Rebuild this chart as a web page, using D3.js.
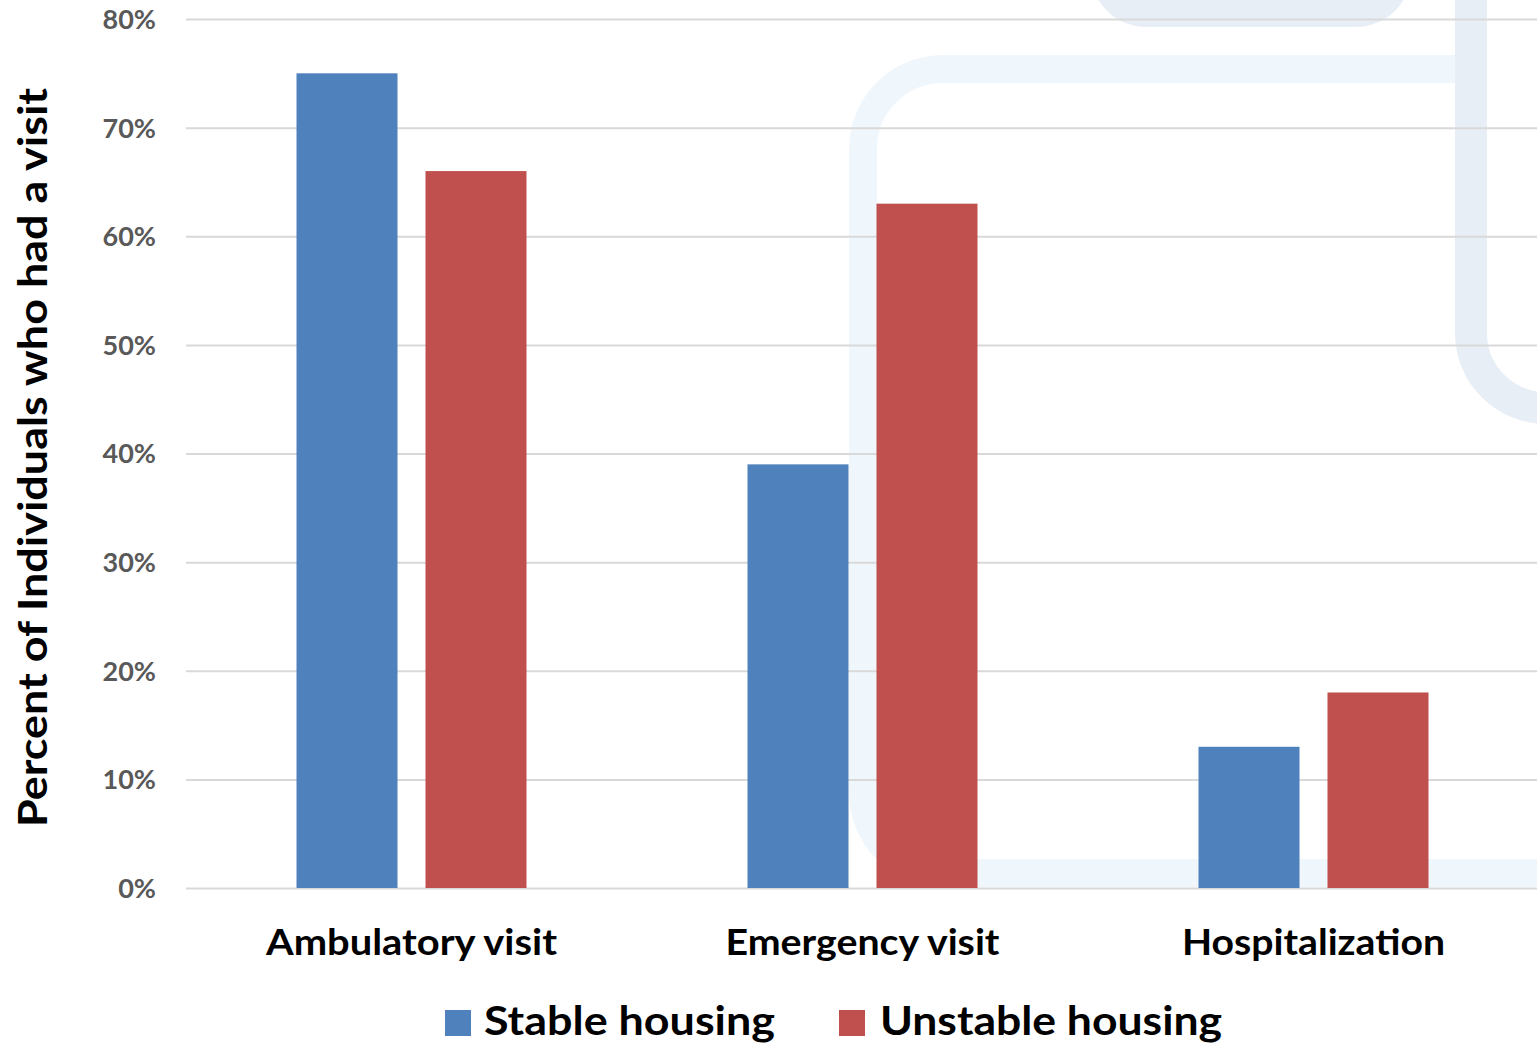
<!DOCTYPE html>
<html>
<head>
<meta charset="utf-8">
<script src="https://cdn.jsdelivr.net/npm/d3@7"></script>
<style>
  html, body { margin: 0; padding: 0; background: #ffffff; }
  svg { display: block; }
</style>
</head>
<body>
<svg id="chart" width="1537" height="1044"></svg>
<script>
// Share of individuals with at least one visit, by housing status
const categories = ["Ambulatory visit", "Emergency visit", "Hospitalization"];
const seriesNames = ["Stable housing", "Unstable housing"];
const stableValues = [75, 39, 13];
const unstableValues = [66, 63, 18];
const yTicks = [0, 10, 20, 30, 40, 50, 60, 70, 80];
const yTitle = "Percent of Individuals who had a visit";

const colors = { "Stable housing": "#4f81bd", "Unstable housing": "#c0504d" };
const FONT = "Lato, 'Open Sans', sans-serif";

const rows = categories.map((c, i) => ({
  category: c,
  values: [
    { series: seriesNames[0], value: stableValues[i] },
    { series: seriesNames[1], value: unstableValues[i] }
  ]
}));

const W = 1537, H = 1044;
const plotLeft = 186, plotRight = 1539, plotTop = 19, plotBottom = 888;
const svg = d3.select("#chart");

// Decorative pale-blue background outlines
const deco = svg.append("g").attr("class", "backdrop");
deco.append("path")
  .attr("d", "M1471,69 H943 A80,80 0 0 0 863,149 V793 A80,80 0 0 0 943,873 H1600")
  .attr("fill", "none").attr("stroke", "#f0f7fc").attr("stroke-width", 28);
deco.append("rect")
  .attr("x", 1091).attr("y", -120).attr("width", 320).attr("height", 147)
  .attr("rx", 55).attr("ry", 55)
  .attr("fill", "#e8eef5");
deco.append("path")
  .attr("d", "M1471,-20 V333 A75,75 0 0 0 1546,408 H1600")
  .attr("fill", "none").attr("stroke", "#e7eef5").attr("stroke-width", 32);

const y = d3.scaleLinear()
  .domain([0, 80])
  .range([plotBottom, plotTop]);

const x0 = d3.scaleBand()
  .domain(categories)
  .range([plotLeft, plotRight])
  .padding(0);

const groupWidth = 230;
const x1 = d3.scaleBand()
  .domain(seriesNames)
  .range([(x0.bandwidth() - groupWidth) / 2, (x0.bandwidth() + groupWidth) / 2])
  .paddingInner(0.217)
  .paddingOuter(0);

// Gridlines and y tick labels
const yAxis = d3.axisLeft(y)
  .tickValues(yTicks)
  .tickSize(-(W - plotLeft))
  .tickPadding(30)
  .tickFormat(d => d + "%");

const gy = svg.append("g")
  .attr("transform", `translate(${plotLeft},0)`)
  .call(yAxis);
gy.select(".domain").remove();
gy.selectAll(".tick line")
  .attr("stroke", "#d9d9d9")
  .attr("stroke-width", 2);
gy.selectAll(".tick text")
  .attr("fill", "#595959")
  .attr("font-family", FONT)
  .attr("font-weight", "bold")
  .attr("font-size", 27)
  .attr("dy", "0.35em");

// Bars
const groups = svg.append("g")
  .selectAll("g")
  .data(rows)
  .join("g")
  .attr("transform", d => `translate(${x0(d.category)},0)`);

groups.selectAll("rect")
  .data(d => d.values)
  .join("rect")
  .attr("x", d => x1(d.series))
  .attr("width", x1.bandwidth())
  .attr("y", d => y(d.value))
  .attr("height", d => y(0) - y(d.value))
  .attr("fill", d => colors[d.series]);

// Category labels
const labelWidths = { "Ambulatory visit": 291, "Emergency visit": 274, "Hospitalization": 263 };
const gx = svg.append("g")
  .attr("transform", `translate(0,${plotBottom})`)
  .call(d3.axisBottom(x0).tickSize(0).tickPadding(0));
gx.select(".domain").remove();
gx.selectAll(".tick text")
  .attr("y", 67)
  .attr("dy", 0)
  .attr("fill", "#000000")
  .attr("font-family", FONT)
  .attr("font-weight", "bold")
  .attr("font-size", 37)
  .attr("textLength", d => labelWidths[d])
  .attr("lengthAdjust", "spacingAndGlyphs");

// Y axis title
svg.append("text")
  .attr("transform", "translate(47,457.5) rotate(-90)")
  .attr("text-anchor", "middle")
  .attr("font-family", FONT)
  .attr("font-weight", "bold")
  .attr("font-size", 41)
  .attr("fill", "#000000")
  .attr("textLength", 739)
  .attr("lengthAdjust", "spacingAndGlyphs")
  .text(yTitle);

// Legend
const legendItems = [
  { name: seriesNames[0], sx: 445, tx: 484, w: 291 },
  { name: seriesNames[1], sx: 839, tx: 880, w: 342 }
];
const legend = svg.append("g").selectAll("g")
  .data(legendItems)
  .join("g");
legend.append("rect")
  .attr("x", d => d.sx).attr("y", 1010)
  .attr("width", 26).attr("height", 26)
  .attr("fill", d => colors[d.name]);
legend.append("text")
  .attr("x", d => d.tx).attr("y", 1035)
  .attr("font-family", FONT)
  .attr("font-weight", "bold")
  .attr("font-size", 41)
  .attr("fill", "#000000")
  .attr("textLength", d => d.w)
  .attr("lengthAdjust", "spacingAndGlyphs")
  .text(d => d.name);
</script>
</body>
</html>
